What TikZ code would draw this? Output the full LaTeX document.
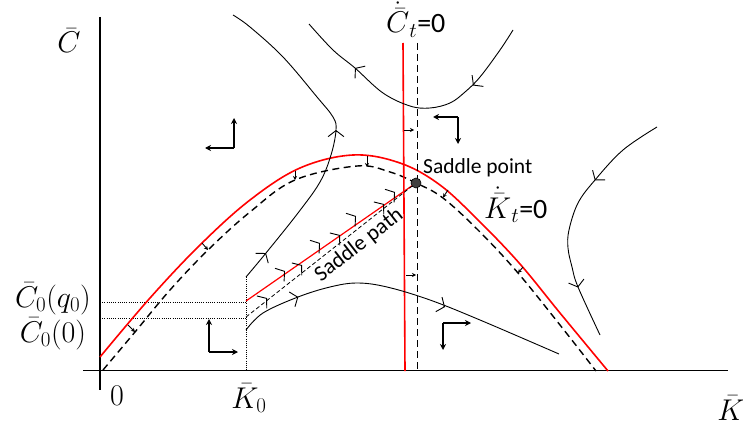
\RequirePackage{fix-cm}
\documentclass[tikz,border=0pt]{standalone}
\usepackage[no-math]{fontspec}
\setmainfont{Carlito}
\usetikzlibrary{arrows.meta}
\definecolor{dotgray}{HTML}{404040}
\tikzset{
  axisline/.style={line width=1.3pt, black},
  redcurve/.style={line width=1.6pt, red},
  dashcurve/.style={line width=1.4pt, black, dash pattern=on 7pt off 4.5pt},
  traj/.style={line width=0.9pt, black},
  guide/.style={line width=0.8pt, black, dash pattern=on 1pt off 1.2pt},
  barb/.style={line width=0.9pt, -{Straight Barb[angle=105:10pt]}},
  smallarrow/.style={line width=0.9pt, -{Stealth[length=4pt,width=4pt]}},
  dirarrow/.style={line width=1.5pt, -{Stealth[length=6pt,width=6pt]}},
  mathlbl/.style={font=\fontsize{30}{34}\selectfont, inner sep=0pt},
  txtlbl/.style={font=\fontsize{21.5}{25}\selectfont, inner sep=0pt},
}
\begin{document}
\begin{tikzpicture}[x=1pt,y=-1pt]
\useasboundingbox (0,0) rectangle (743,425);
% axes
\coordinate (ytop) at (100,17);
\coordinate (ybot) at (100,390);
\coordinate (xl) at (83,370.5);
\coordinate (xr) at (728,370.5);
\draw[axisline] (ytop) -- (ybot);
\draw[axisline] (xl) -- (xr);
% guide (dotted) lines
\coordinate (k0top) at (246,277);
\coordinate (k0bot) at (246,370.5);
\coordinate (q0l) at (100,302);
\coordinate (q0r) at (246,302);
\coordinate (c0l) at (100,318);
\coordinate (c0r) at (246,318);
\draw[guide] (k0top) -- (k0bot);
\draw[guide] (q0l) -- (q0r);
\draw[guide] (c0l) -- (c0r);
% K-dot = 0 curves
\draw[redcurve] plot[smooth, tension=0.6] coordinates {(100,357) (150,298) (200,245) (250,200) (300,168) (353,155) (400,163) (440,185) (480,222) (520,264) (560,313) (608,371)};
\draw[dashcurve] plot[smooth, tension=0.6] coordinates {(103,370) (135,332) (170,290) (208,250) (250,212) (295,180) (357,166) (390,172) (416,183) (443,198) (480,232) (518,273) (560,325) (596,371)};
% C-dot = 0 lines
\coordinate (rvtop) at (403,43);
\coordinate (rvbot) at (405,371);
\coordinate (dvtop) at (417.5,43);
\coordinate (dvbot) at (417.5,371);
\draw[redcurve] (rvtop) -- (rvbot);
\draw[dashcurve, line width=1.3pt, dash pattern=on 7pt off 4pt] (dvtop) -- (dvbot);
% saddle path (red) and dashed path
\coordinate (S) at (416,183);
\coordinate (sp0) at (246,301);
\coordinate (dp0) at (246,317);
\draw[red, line width=1.2pt] (sp0) -- (S);
\draw[black, line width=0.8pt, dash pattern=on 4pt off 2.5pt] (dp0) -- (S);
% trajectories
\draw[traj] plot[smooth, tension=0.6] coordinates {(246,277) (266,253) (298,213) (320,182) (331,155) (336,130) (333,117) (317,97) (283,57) (250,27) (233,15)};
\draw[traj] plot[smooth, tension=0.6] coordinates {(513,30) (500,50) (480,77) (465,92) (450,103) (430,108) (410,106) (383,93) (355,68) (333,50) (309,24)};
\draw[traj] plot[smooth, tension=0.6] coordinates {(657,127) (623,150) (595,180) (578,203) (569,230) (568,248) (572,267) (578,287) (600,335)};
\draw[traj] plot[smooth, tension=0.6] coordinates {(246,330) (263,313) (298,297) (330,287) (357,283) (387,287) (430,300) (480,320) (559,354)};
% barb markers on trajectories
\draw[barb] (265,254.3) -- (266,253);
\draw[barb] (336,131.5) -- (336,130);
\draw[barb] (474.2,84.3) -- (473,85.5);
\draw[barb] (356.2,69) -- (355,68);
\draw[barb] (595.8,179) -- (594.8,180.3);
\draw[barb] (577.6,286) -- (578,287.5);
\draw[barb] (297,297.5) -- (298.3,297);
\draw[barb] (443.6,306.4) -- (445,307);
% barbs on saddle path (red) and dashed path
\draw[barb] (284,271.7) -- (285,271);
\draw[barb] (319,243.7) -- (320,243);
\draw[barb] (355,216.7) -- (356,216);
\draw[barb] (394,192.7) -- (395,192);
\draw[barb] (266,298.8) -- (267,298);
\draw[barb] (301,265.8) -- (302,265);
\draw[barb] (339,235.8) -- (340,235);
\draw[barb] (383,204.8) -- (384,204);
% small arrows between the K-dot curves
\draw[smallarrow] (128,325) -- (135,332);
\draw[smallarrow] (202,243) -- (208,250);
\draw[smallarrow] (295,171) -- (295,180);
\draw[smallarrow] (367,156) -- (367,167);
\draw[smallarrow] (448,190) -- (443,197.5);
\draw[smallarrow] (523,267) -- (518,273);
% small arrows between the C-dot lines
\draw[smallarrow] (404,130) -- (414,130);
\draw[smallarrow] (406,275) -- (416,275);
% direction indicators
\coordinate (d1) at (234,148);
\draw[dirarrow] (d1) -- (234,118);
\draw[dirarrow] (d1) -- (205,148);
\coordinate (d2) at (458,117);
\draw[dirarrow] (d2) -- (433,117);
\draw[dirarrow] (d2) -- (458,144);
\coordinate (d3) at (209,352);
\draw[dirarrow] (d3) -- (209,319);
\draw[dirarrow] (d3) -- (238,352);
\coordinate (d4) at (443,323);
\draw[dirarrow] (d4) -- (471,323);
\draw[dirarrow] (d4) -- (443,350);
% saddle point
\fill[dotgray] (S) circle (5);
\draw[black, line width=0.6pt] (S) circle (5);
% labels
\node[mathlbl, anchor=base] (lc) at (69,53) {$\bar{C}$};
\node[mathlbl, anchor=base] (lk) at (731,420) {$\bar{K}$};
\node[mathlbl, anchor=base] (l0) at (117,405) {$0$};
\node[mathlbl, anchor=base] (lk0) at (249,408) {$\bar{K}_0$};
\node[mathlbl, anchor=base] (lcq) at (53,307) {$\bar{C}_0(q_0)$};
\node[mathlbl, anchor=base] (lc0) at (53,342) {$\bar{C}_0(0)$};
\node[mathlbl, anchor=base west] (lcdot) at (386,33) {$\dot{\bar{C}}_t${\fontsize{28}{32}\selectfont=0}};
\node[mathlbl, anchor=base west] (lkdot) at (484,218) {$\dot{\bar{K}}_t${\fontsize{28}{32}\selectfont=0}};
\node[txtlbl, anchor=west] (lsp) at (423,168) {Saddle point};
\node[txtlbl, rotate=38, font=\fontsize{22}{26}\selectfont] (lpath) at (359,245) {Saddle path};
\end{tikzpicture}
\end{document}
